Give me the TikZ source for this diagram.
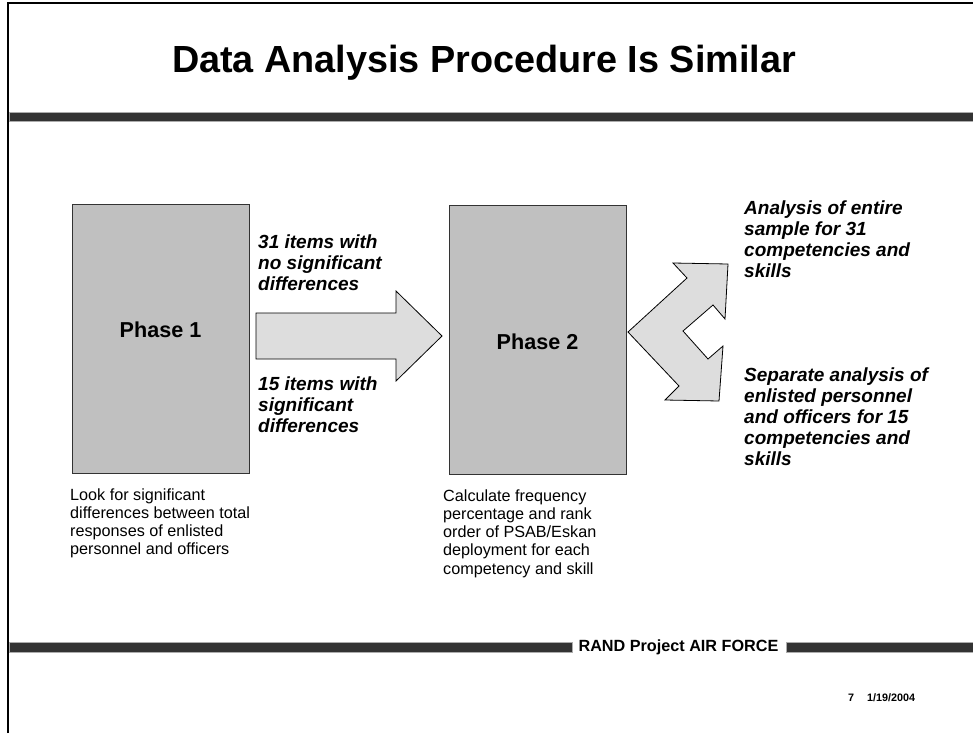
\documentclass[tikz,border=0pt]{standalone}
\usepackage{fontspec}
\setmainfont{Liberation Sans}
\definecolor{barcol}{HTML}{333333}
\definecolor{boxfill}{HTML}{C0C0C0}
\definecolor{arrfill}{HTML}{DDDDDD}
\tikzset{
  phasebox/.style={draw=black!80, fill=boxfill, line width=0.9pt, minimum width=177pt, minimum height=269pt, inner sep=0pt},
  phaselabel/.style={font=\fontsize{21.6}{24}\selectfont\bfseries, inner sep=0pt},
  body/.style={font=\fontsize{16.2}{18.3}\selectfont, align=left, inner sep=0pt, anchor=north west},
  bodyit/.style={font=\fontsize{19}{21}\selectfont\bfseries\itshape, align=left, inner sep=0pt, anchor=north west},
  blockarrow/.style={draw=black, fill=arrfill, line width=0.8pt, line join=miter},
  bar/.style={fill=barcol, draw=gray!65, line width=0.8pt}
}
\begin{document}
\begin{tikzpicture}[x=1pt,y=-1pt]
\useasboundingbox (0,0) rectangle (973,733);
% frame
\draw[line width=2.2pt] (8,733) -- (8,3) -- (973,3);
% title
\node[font=\fontsize{37.8}{42}\selectfont\bfseries, inner sep=0pt] (title) at (484,63) {Data Analysis Procedure Is Similar};
\path[bar] (9.5,112) rectangle (973,121);
% phase boxes
\node[phasebox] (p1) at (160.5,338.5) {};
\node[phasebox] (p2) at (537.5,339.5) {};
\node[phaselabel] (p1l) at (160.5,330) {Phase 1};
\node[phaselabel] (p2l) at (537.5,342) {Phase 2};
% arrow between phases
\draw[blockarrow] (256,313) -- (396,313) -- (396,291) -- (442,336) -- (396,381) -- (396,359) -- (256,359) -- cycle;
% split arrow
\draw[blockarrow] (628,332) -- (687,278) -- (673,263) -- (728,264) -- (725,319) -- (713,305) -- (683,331) -- (708,359) -- (723,346) -- (719,401) -- (665,400) -- (679,386) -- cycle;
% arrow labels
\node[bodyit] (t31) at (258,234) {\strut 31 items with\\no significant\\differences};
\node[bodyit] (t15) at (258,376) {\strut 15 items with\\significant\\differences};
% right texts
\node[bodyit] (ra) at (744,200) {\strut Analysis of entire\\sample for 31\\competencies and\\skills};
\node[bodyit] (rb) at (744,367) {\strut Separate analysis of\\enlisted personnel\\and officers for 15\\competencies and\\skills};
% descriptions
\node[body] (d1) at (70,487) {\strut Look for significant\\differences between total\\responses of enlisted\\personnel and officers};
\node[body] (d2) at (443,488) {\strut Calculate frequency\\percentage and rank\\order of PSAB/Eskan\\deployment for each\\competency and skill};
% footer
\path[bar] (9.5,642) rectangle (572,652);
\path[bar] (786,642) rectangle (973,652);
\node[font=\fontsize{16.2}{19}\selectfont\bfseries, inner sep=0pt] (rand) at (678.5,647) {RAND Project AIR FORCE};
\node[font=\fontsize{10.8}{12}\selectfont\bfseries, inner sep=0pt, anchor=west] (pg) at (848,698) {7\hspace{1.2em}1/19/2004};
\end{tikzpicture}
\end{document}
